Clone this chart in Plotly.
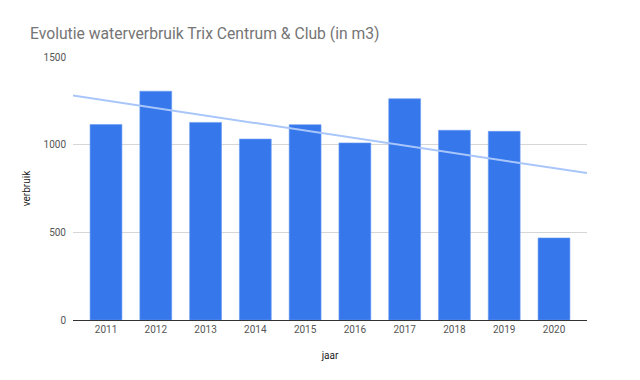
import numpy as np
import plotly.graph_objects as go

years = ["2011", "2012", "2013", "2014", "2015", "2016", "2017", "2018", "2019", "2020"]
verbruik = [1115, 1305, 1127, 1032, 1114, 1010, 1262, 1082, 1076, 468]
y_ticks = [0, 500, 1000, 1500]

x_idx = np.arange(len(years))
slope, intercept = np.polyfit(x_idx, verbruik, 1)
x_lo, x_hi = -0.663, len(years) - 1 + 0.663
trend_x = [x_lo, x_hi]
trend_y = [intercept + slope * x_lo, intercept + slope * x_hi]

fig = go.Figure()
fig.add_trace(go.Bar(
    x=x_idx, y=verbruik,
    marker=dict(color="#3677EC", line=dict(color="#6a9cf2", width=0.6)),
    width=0.64,
    showlegend=False,
))
fig.add_trace(go.Scatter(
    x=trend_x, y=trend_y, mode="lines",
    line=dict(color="#a9c6fb", width=2),
    showlegend=False, hoverinfo="skip",
))

fig.update_layout(
    width=640, height=380,
    margin=dict(l=73, r=53, t=57, b=60),
    paper_bgcolor="white", plot_bgcolor="white",
    font=dict(family="Roboto, Arial, sans-serif", color="#444444"),
    title=dict(
        text="Evolutie waterverbruik Trix Centrum & Club (in m3)",
        x=30 / 640, xanchor="left", y=1 - 34 / 380, yanchor="middle",
        font=dict(size=15.7, color="#757575", family="Roboto, Arial, sans-serif"),
    ),
    xaxis=dict(
        range=[x_lo, x_hi],
        tickmode="array", tickvals=list(x_idx), ticktext=years,
        tickfont=dict(size=10, color="#555555"),
        showgrid=False, zeroline=False, showline=True,
        linecolor="#333333", linewidth=1, ticks="",
        title=dict(text="jaar", font=dict(size=10, color="#222222"), standoff=17),
    ),
    yaxis=dict(
        range=[0, 1500],
        tickmode="array", tickvals=y_ticks, ticktext=[str(v) for v in y_ticks],
        tickfont=dict(size=10, color="#555555"),
        showgrid=True, gridcolor="#d6d6d6", gridwidth=1,
        zeroline=False, showline=False, ticks="",
        ticklabelstandoff=6,
        title=dict(text="verbruik", font=dict(size=10, color="#222222"), standoff=11),
    ),
)

fig.write_html("out.html")
